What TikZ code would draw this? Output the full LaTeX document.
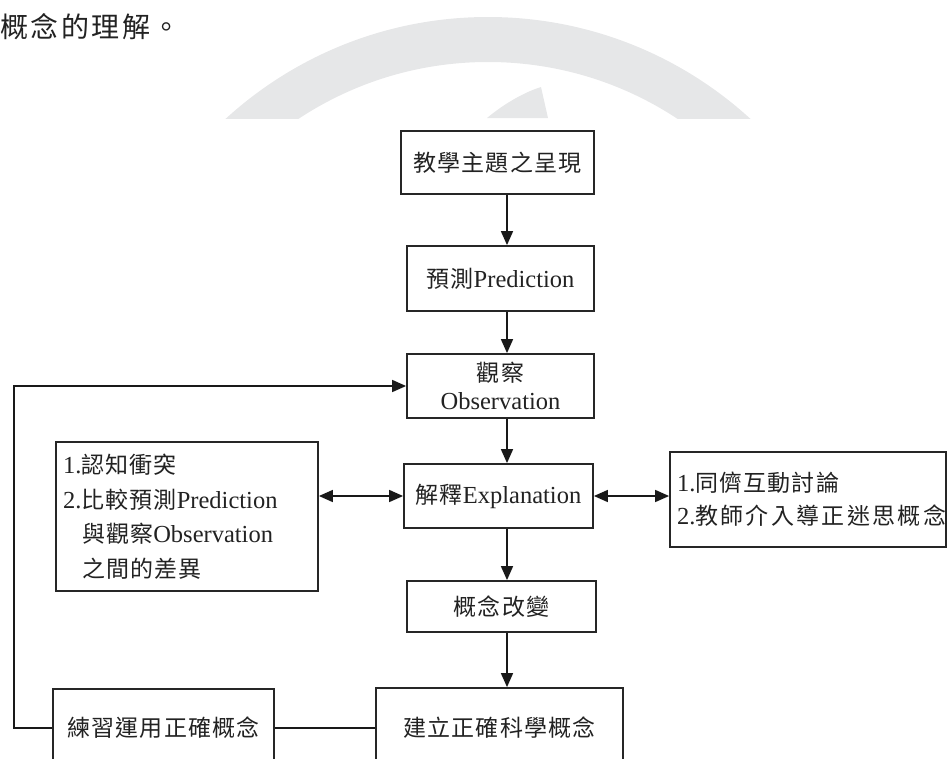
\documentclass[tikz,border=0pt]{standalone}
\usepackage{fontspec}
\setmainfont{Liberation Serif}
\newfontfamily\cjkf[LetterSpace=5]{Noto Sans CJK TC}
\newfontfamily\cjkw[LetterSpace=10]{Noto Sans CJK TC}
\newfontfamily\cjkt[LetterSpace=9]{Noto Sans CJK TC}
\usetikzlibrary{arrows.meta}
\definecolor{wm}{HTML}{E6E7E8}
\definecolor{ink}{HTML}{222222}
\newcommand\ZH[1]{{\cjkf\fontsize{23}{23}\selectfont #1}}
\newcommand\ZHw[1]{{\cjkw\fontsize{23}{23}\selectfont #1}}
\tikzset{
  box/.style={draw=black!85, line width=1.8pt, text=ink, inner sep=0pt,
    font=\fontsize{24.5}{28}\selectfont},
  conn/.style={draw=black!90, line width=1.6pt},
  arr/.style={conn, -{Triangle[length=14pt,width=12pt]}},
  darr/.style={conn, {Triangle[length=14pt,width=12pt]}-{Triangle[length=14pt,width=12pt]}},
}
\begin{document}
\begin{tikzpicture}[x=1pt,y=-1pt]
\useasboundingbox (0,0) rectangle (947,758);
\clip (0,0) rectangle (947,758);
% watermark
\begin{scope}
  \clip (0,0) rectangle (947,118);
  \fill[wm, even odd rule] (488,406) circle (389pt) (488,406) circle (344pt);
  \fill[wm] (487,118) .. controls (505,103) and (525,92) .. (541,87) -- (548,118) -- cycle;
\end{scope}
% intro text
\node[anchor=west, inner sep=0pt, text=ink] (intro) at (0,27) {\cjkt\fontsize{28}{28}\selectfont 概念的理解。};
% boxes
\node[box, minimum width=193pt, minimum height=63pt] (topic) at (497.5,162.5) {\ZH{教學主題之呈現}};
\node[box, minimum width=187pt, minimum height=65pt] (pred) at (500.5,278.5) {\ZH{預測}Prediction};
\node[box, minimum width=187pt, minimum height=64pt, align=center] (obs) at (500.5,386) {\ZH{觀察}\\Observation};
\node[box, minimum width=189pt, minimum height=64pt] (expl) at (498.5,496) {\ZH{解釋}Explanation};
\node[box, minimum width=189pt, minimum height=51pt] (cc) at (501.5,606.5) {\ZH{概念改變}};
\node[box, minimum width=247pt, minimum height=80pt] (build) at (499.5,728) {\ZH{建立正確科學概念}};
\node[box, minimum width=221pt, minimum height=78pt] (prac) at (163.5,728) {\ZH{練習運用正確概念}};
\node[box, text width=248pt, inner xsep=7pt, minimum height=149pt, align=left,
  font=\fontsize{24.5}{34.5}\selectfont] (left) at (187,516.5)
  {1.\ZH{認知衝突}\\2.\ZH{比較預測}Prediction\\\hspace*{19pt}\ZH{與觀察}Observation\\\hspace*{19pt}\ZH{之間的差異}};
\node[box, text width=262pt, inner xsep=7pt, minimum height=95pt, align=left,
  font=\fontsize{24.5}{33}\selectfont] (right) at (808,499.5)
  {1.\ZH{同儕互動討論}\\2.\ZHw{教師介入導正迷思概念}};
% connectors
\coordinate (ax) at (507,0);
\coordinate (lx) at (14,0);
\draw[arr] (topic.south -| ax) -- (pred.north -| ax);
\draw[arr] (pred.south -| ax) -- (obs.north -| ax);
\draw[arr] (obs.south -| ax) -- (expl.north -| ax);
\draw[arr] (expl.south -| ax) -- (cc.north -| ax);
\draw[arr] (cc.south -| ax) -- (build.north -| ax);
\draw[darr] (left.east |- expl.west) -- (expl.west);
\draw[darr] (expl.east) -- (right.west |- expl.east);
\draw[conn] (build.west) -- (prac.east);
\draw[arr] (prac.west) -- (prac.west -| lx) |- (obs.west);
\end{tikzpicture}
\end{document}
